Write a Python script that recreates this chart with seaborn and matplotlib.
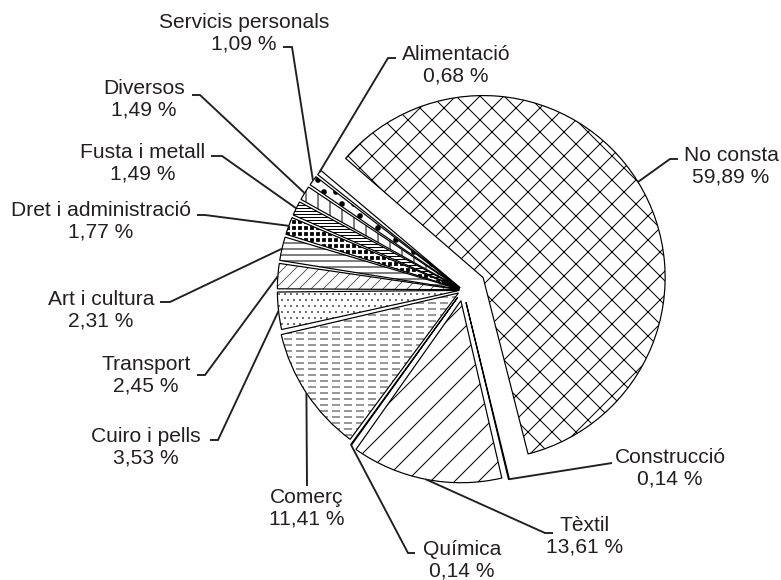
import numpy as np
import matplotlib
matplotlib.use("Agg")
import matplotlib.pyplot as plt
from matplotlib.patches import Wedge
import seaborn as sns

# Dades (percentatges per sector professional)
categories = ["No consta", "Construcció", "Tèxtil", "Química", "Comerç",
              "Cuiro i pells", "Transport", "Art i cultura", "Dret i administració",
              "Fusta i metall", "Diversos", "Servicis personals", "Alimentació"]
percentages = [59.89, 0.14, 13.61, 0.14, 11.41, 3.53, 2.45, 2.31, 1.77,
               1.49, 1.49, 1.09, 0.68]
value_labels = [f"{v:.2f}".replace(".", ",") + " %" for v in percentages]

# Estil de cada sector
explode = [0.13, 0.07, 0.06, 0.05, 0.03, 0.02, 0.02, 0.02, 0.02, 0.02, 0.02, 0.02, 0.02]
hatches = ["x", "", "/", "", "--", "..", "//", "--", "++", "----", "|", ".", ""]
hatch_colors = ["black", "black", "black", "black", "#555555", "#333333", "#444444",
                "black", "white", "black", "black", "black", "black"]
face_colors = ["white"] * 13
face_colors[8] = "black"
hatch_lws = [1, 1, 1, 1, 1.2, 0.6, 0.8, 1, 2.2, 1, 1, 3.2, 1]

# Posicions de les etiquetes (pixels) i colzes de les línies guia
label_pos = [(731, 166.5), (670, 468.5), (585, 536.5), (462, 560), (307, 508.5),
             (146, 447.5), (146, 375.5), (101, 310), (101, 221.5), (143, 163.5),
             (144, 99.5), (244, 33.5), (456, 65)]
knees = [(670, 159), (612, 463), (545, 533), (408, 553), (307, 486),
         (218, 440), (205, 375), (170, 302), (205, 215), (222, 156),
         (200, 95), (292, 47), (388, 58)]
tails = [(678, 159), (612, 463), (553, 533), (415, 553), (307, 486),
         (210, 440), (197, 375), (160, 302), (197, 215), (211, 156),
         (192, 95), (283, 47), (396, 58)]

W, H, DPI = 781, 580, 72
CX, CY, SCALE = 463, 290, 182


def to_data(px, py):
    return ((px - CX) / SCALE, (CY - py) / SCALE)


sns.set_theme(style="white")
plt.rcParams['font.family'] = ['Liberation Sans', 'DejaVu Sans']
plt.rcParams['hatch.linewidth'] = 1.0

fig = plt.figure(figsize=(W / DPI, H / DPI), dpi=DPI)
ax = fig.add_axes([0, 0, 1, 1])

wedges, _ = ax.pie(percentages, explode=explode, startangle=139.5, counterclock=False,
                   colors=face_colors, radius=1, wedgeprops=dict(linewidth=0))

gap = 0.4
for i, w in enumerate(wedges):
    span = w.theta2 - w.theta1
    d = min(gap, span * 0.2)
    w.set_theta1(w.theta1 + d)
    w.set_theta2(w.theta2 - d)
    w.set_hatch(hatches[i])
    w.set_edgecolor(hatch_colors[i])
    if hasattr(w, "set_hatch_linewidth"):
        w.set_hatch_linewidth(hatch_lws[i])

# talla les línies de Comerç en traços
cut = Wedge(wedges[4].center, wedges[4].r, wedges[4].theta1, wedges[4].theta2,
            fill=False, hatch="|", edgecolor="white", linewidth=0)
if hasattr(cut, "set_hatch_linewidth"):
    cut.set_hatch_linewidth(4)
ax.add_patch(cut)

# contorns
for w in wedges:
    ax.add_patch(Wedge(w.center, w.r, w.theta1, w.theta2, fill=False,
                       edgecolor="black", linewidth=1.2))

# etiquetes amb línies guia
for i, w in enumerate(wedges):
    ang = np.deg2rad((w.theta1 + w.theta2) / 2)
    ax0 = w.center[0] + w.r * np.cos(ang)
    ay0 = w.center[1] + w.r * np.sin(ang)
    kx, ky = to_data(*knees[i])
    tx, ty = to_data(*tails[i])
    ax.plot([ax0, kx, tx], [ay0, ky, ty], color="#231f20", linewidth=1.9,
            solid_capstyle="butt", solid_joinstyle="miter")
    lx, ly = to_data(*label_pos[i])
    ax.text(lx, ly, f"{categories[i]}\n{value_labels[i]}", ha="center", va="center",
            fontsize=21, linespacing=1.15, color="#231f20")

ax.set_xlim(-CX / SCALE, (W - CX) / SCALE)
ax.set_ylim(-(H - CY) / SCALE, CY / SCALE)
ax.set_aspect("auto")
ax.axis("off")

fig.savefig("out.png", dpi=DPI, facecolor="white")
